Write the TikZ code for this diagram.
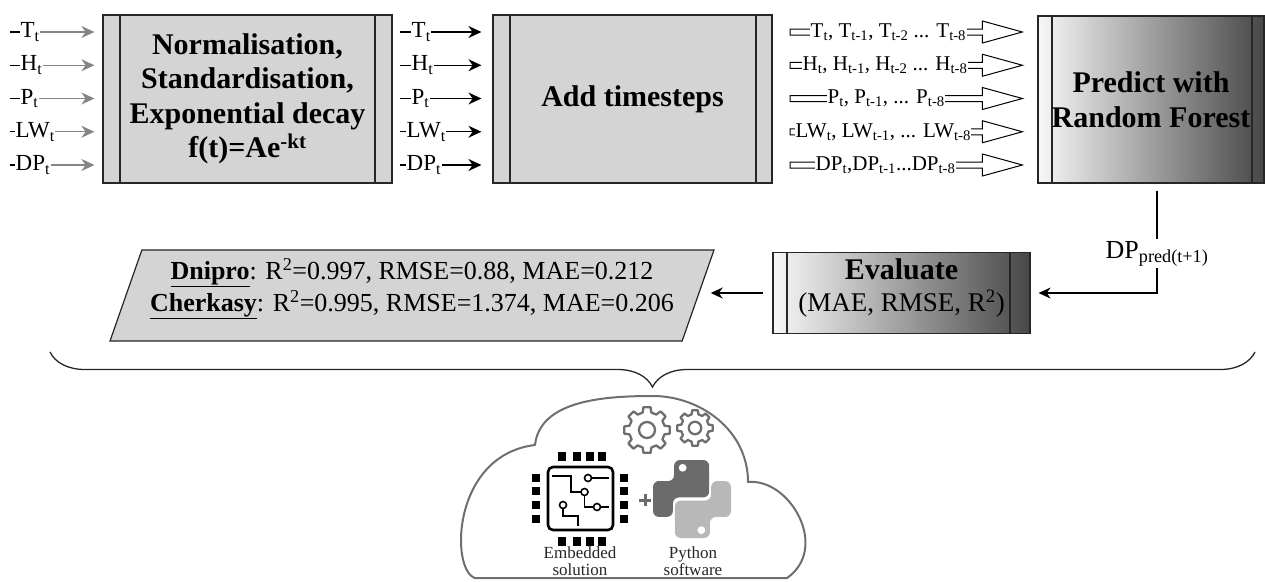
\documentclass[tikz,border=0pt]{standalone}
\usepackage{fontspec}
\setmainfont{Liberation Serif}
\usetikzlibrary{arrows.meta,calc,shapes.geometric,decorations.pathreplacing}

\definecolor{boxgray}{HTML}{D4D4D4}
\definecolor{ingray}{HTML}{858585}
\definecolor{cloudgray}{HTML}{6E6E6E}
\definecolor{snakedark}{HTML}{6B6B6B}
\definecolor{snakelight}{HTML}{B8B8B8}

\tikzset{
	stepbox/.style={draw=black!85, line width=1.2pt, fill=boxgray, align=center, inner sep=0pt,
		font=\bfseries\fontsize{30}{34.5}\selectfont},
	shadebox/.style={stepbox, left color=black!3, right color=black!72},
	strips/.style 2 args={path picture={
		\draw[line width=1.2pt, black!85] ([xshift=#1]path picture bounding box.north west) -- ([xshift=#1]path picture bounding box.south west);
		\draw[line width=1.2pt, black!85] ([xshift=-#2]path picture bounding box.north east) -- ([xshift=-#2]path picture bounding box.south east);}},
	inlabel/.style={inner sep=0.5pt, font=\fontsize{23}{25}\selectfont},
	lagbox/.style={inner sep=0.5pt, fill=white, font=\fontsize{21}{23}\selectfont},
	inarrow/.style={line width=1.3pt, -{Stealth[length=13pt,width=12pt]}},
	flow/.style={line width=1.2pt, -{Stealth[length=12pt,width=11pt]}},
	hollow/.style={draw, line width=1pt, fill=white, to path={
		($(\tikztostart)+(0,-3)$) -- ($(\tikztotarget)+(-40,-3)$) -- ($(\tikztotarget)+(-40,-11)$) -- (\tikztotarget)
		-- ($(\tikztotarget)+(-40,11)$) -- ($(\tikztotarget)+(-40,3)$) -- ($(\tikztostart)+(0,3)$) -- cycle}},
	resbox/.style={trapezium, trapezium left angle=67, trapezium right angle=113, trapezium stretches body,
		draw=black!85, line width=1.2pt, fill=boxgray, minimum width=604, minimum height=91, inner sep=0pt,
		align=center, font=\fontsize{26}{32}\selectfont},
	brace/.style={decorate, decoration={brace, mirror, amplitude=35pt}, line width=1.3pt, black!85},
	cloudline/.style={line width=2pt, cloudgray, line join=round},
	gearline/.style={line width=2.3pt, cloudgray, line join=round},
	chipline/.style={line width=2.6pt, black},
	pad/.style={line width=1.6pt, black},
	icontext/.style={align=center, inner sep=0pt, text=black!85, font=\fontsize{17}{16.5}\selectfont},
	gear/.pic={
		\draw[gearline] (-14:18) \foreach \a in {0,45,...,315}{ -- (\a-9:23) -- (\a+9:23) -- (\a+14:18)
			arc[start angle=\a+14, end angle=\a+31, radius=18]} -- cycle;
		\draw[gearline] (0,0) circle (8);
	}
}

\begin{document}
\begin{tikzpicture}[x=1pt, y=-1pt]
	\useasboundingbox (0,0) rectangle (1265,581);

	% processing steps
	\node[stepbox, strips={17pt}{17pt}, minimum width=289, minimum height=168] (norm) at (247.5,99)
		{Normalisation,\\Standardisation,\\Exponential decay\\f(t)=Ae\textsuperscript{-kt}};
	\node[stepbox, strips={17pt}{16pt}, minimum width=279, minimum height=168] (steps) at (632.5,99) {Add timesteps};
	\node[shadebox, strips={14pt}{12pt}, minimum width=226, minimum height=167] (forest) at (1151,99.5)
		{Predict with\\Random Forest};
	\node[shadebox, strips={14pt}{20pt}, minimum width=257, minimum height=81] (eval) at (901.5,293)
		{Evaluate\\[-3pt]{\mdseries\fontsize{27}{30}\selectfont (MAE, RMSE, R\textsuperscript{2})\rule[-16pt]{0pt}{0pt}}};
	\node[resbox] (res) at (412,295.5)
		{\underline{\textbf{Dnipro}}: R\textsuperscript{2}=0.997, RMSE=0.88, MAE=0.212\\
		\underline{\textbf{Cherkasy}}: R\textsuperscript{2}=0.995, RMSE=1.374, MAE=0.206\rule[-22pt]{0pt}{0pt}};

	% raw inputs
	\foreach \lab/\xa [count=\i] in {T/20, H/20, P/20, LW/15, DP/15}{
		\node[inlabel, anchor=west] (a\i) at (\xa, 32+33.25*\i-33.25) {\lab\textsubscript{t}};
		\draw[line width=1.3pt] (10, 32+33.25*\i-33.25) -- (a\i.west);
		\draw[inarrow, ingray, shorten >=8pt] (a\i) -- (a\i -| norm.west);
	}

	% scaled inputs
	\foreach \lab/\xa [count=\i] in {T/411, H/411, P/411, LW/406, DP/406}{
		\node[inlabel, anchor=west] (b\i) at (\xa, 32+33.25*\i-33.25) {\lab\textsubscript{t}};
		\draw[line width=1.3pt] (400, 32+33.25*\i-33.25) -- (b\i.west);
		\draw[inarrow, shorten >=11pt] (b\i) -- (b\i -| steps.west);
	}

	% lagged inputs
	\foreach \i in {1,...,5}{
		\coordinate (h\i) at (790, 32+33.25*\i-33.25);
		\draw[hollow] (h\i) to ([xshift=-15pt]h\i -| forest.west);
	}
	\node[lagbox, anchor=west] (c1) at (810,32)
		{T\textsubscript{t}, T\textsubscript{t-1}, T\textsubscript{t-2} ... T\textsubscript{t-8}};
	\node[lagbox, anchor=west] (c2) at (802,65.25)
		{H\textsubscript{t}, H\textsubscript{t-1}, H\textsubscript{t-2} ... H\textsubscript{t-8}};
	\node[lagbox, anchor=west] (c3) at (827,98.5)
		{P\textsubscript{t}, P\textsubscript{t-1}, ... P\textsubscript{t-8}};
	\node[lagbox, anchor=west] (c4) at (795,131.75)
		{LW\textsubscript{t}, LW\textsubscript{t-1}, ... LW\textsubscript{t-8}};
	\node[lagbox, anchor=west] (c5) at (815,165)
		{DP\textsubscript{t},DP\textsubscript{t-1}...DP\textsubscript{t-8}};

	% prediction -> evaluation -> results
	\draw[flow, shorten <=7pt, shorten >=8pt] ([xshift=6pt]forest.south)
		-- node[pos=.64, fill=white, inner sep=2pt, font=\fontsize{26}{28}\selectfont] (pred) {DP\textsubscript{pred(t+1)}}
		([xshift=6pt]forest.south |- eval.east) -- (eval.east);
	\draw[flow, shorten <=9pt, shorten >=12pt] (eval.west) -- (eval.west -| res.east);

	\draw[brace] (50,352) -- (1255,352);

	% cloud
	\draw[cloudline] (475,578) .. controls (450,570) and (452,455) .. (535,445)
		.. controls (540,400) and (605,396) .. (653,396)
		.. controls (700,396) and (748,430) .. (748,482)
		.. controls (790,478) and (830,548) .. (787,578) -- cycle;
	\pic at (647,430) {gear};
	\pic[scale=0.78] at (695,428) {gear};

	% chip
	\draw[chipline, rounded corners=5pt] (548,467) rectangle (613,530);
	\foreach \x in {562,577,590,602}{
		\fill (\x-4,452) rectangle (\x+4,461);
		\fill (\x-4,537) rectangle (\x+4,546);
	}
	\foreach \y in {478,491,505,519}{
		\fill (532,\y-4) rectangle (540,\y+4);
		\fill (620,\y-4) rectangle (628,\y+4);
	}
	\draw[pad] (552,476) -| (571,492) -- (581,492);
	\draw[pad] (584.5,492) circle (3.5);
	\draw[pad] (588,478) circle (3.5);
	\draw[pad] (591.5,478) -- (609,478);
	\draw[pad] (563,505) circle (3.5);
	\draw[pad] (563,508.5) -- (563,516) -- (578,516) -- (578,526);
	\draw[pad] (597,507) circle (3.5);
	\draw[pad] (600.5,507) -- (609,507);
	\draw[pad] (584.5,495.5) -- (584.5,507) -- (593.5,507);

	% plus
	\draw[line width=3pt, snakedark] (639,500) -- (651,500) (645,494) -- (645,506);

	% python logo
	\begin{scope}[shift={(653,460)}, scale=0.78]
		\fill[snakedark, rounded corners=6pt] (13,27) -- (27,27) -- (27,0) -- (72,0) -- (72,48) -- (25.5,48)
			-- (25.5,73) -- (0,73) -- (0,27) -- cycle;
		\fill[snakelight, rounded corners=6pt] (87,73) -- (73,73) -- (73,100) -- (28,100) -- (28,52) -- (74.5,52)
			-- (74.5,27) -- (100,27) -- (100,73) -- cycle;
		\fill[white] (38,10) circle (5);
		\fill[white] (62,90) circle (5);
	\end{scope}

	\node[icontext] (emb) at (580,561) {Embedded\\solution};
	\node[icontext] (py) at (693,561) {Python\\software};
\end{tikzpicture}
\end{document}
